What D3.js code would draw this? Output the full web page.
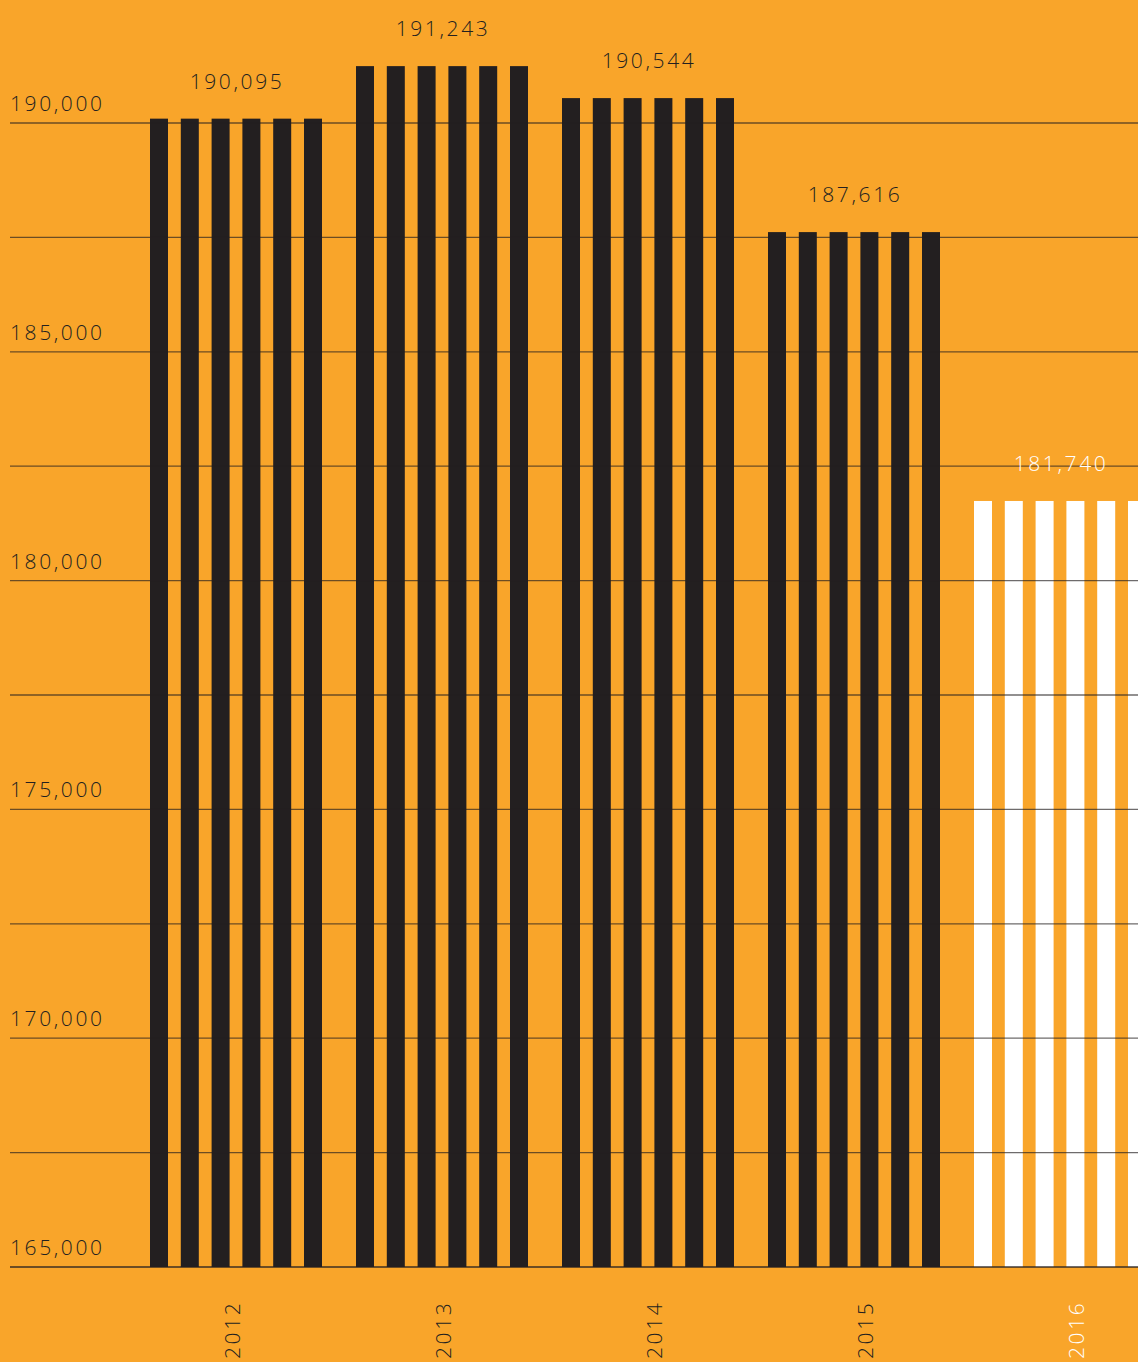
<!DOCTYPE html>
<html>
<head>
<meta charset="utf-8">
<script src="https://cdn.jsdelivr.net/npm/d3@7"></script>
<style>
  html, body { margin: 0; padding: 0; background: #F9A52A; overflow: hidden; }
  svg { display: block; }
  text { font-family: "Open Sans", sans-serif; font-size: 21px; font-weight: 300; letter-spacing: 2.6px; }
</style>
</head>
<body>
<svg id="chart" width="1138" height="1362"></svg>
<script>
// ---- data ----
const years = ["2012", "2013", "2014", "2015", "2016"];
const values = [190095, 191243, 190544, 187616, 181740];
const valueLabels = ["190,095", "191,243", "190,544", "187,616", "181,740"];
const barsPerYear = [0, 1, 2, 3, 4, 5];
const gridTicks = [165000, 167500, 170000, 172500, 175000, 177500, 180000, 182500, 185000, 187500, 190000];
const labelTicks = [165000, 170000, 175000, 180000, 185000, 190000];
const tickLabels = ["165,000", "170,000", "175,000", "180,000", "185,000", "190,000"];
const highlightYear = "2016";

// ---- layout ----
const W = 1138, H = 1362;
const dark = "#231F20";
const svg = d3.select("#chart");
svg.append("rect").attr("width", W).attr("height", H).attr("fill", "#F9A52A");

const y = d3.scaleLinear().domain([165000, 190000]).range([1267, 123]);
const x = d3.scaleBand().domain(years).range([150, 1146]).paddingInner(34 / 206).paddingOuter(0);
const xi = d3.scaleBand().domain(barsPerYear).range([0, x.bandwidth()]).paddingInner(1 - 18 / 30.8).paddingOuter(0);
const xLabel = d3.scalePoint().domain(years).range([232, 1076]);

const data = years.map((yr, i) => ({ year: yr, value: values[i], label: valueLabels[i] }));

// bars
const groups = svg.append("g").selectAll("g").data(data).join("g")
  .attr("transform", d => `translate(${x(d.year)},0)`);
groups.selectAll("rect").data(d => barsPerYear.map(k => ({ k, d })))
  .join("rect")
  .attr("x", e => xi(e.k))
  .attr("width", xi.bandwidth())
  .attr("y", e => y(e.d.value))
  .attr("height", e => y(165000) - y(e.d.value))
  .attr("fill", e => e.d.year === highlightYear ? "#FFFFFF" : dark);

// grid lines (on top of bars)
svg.append("g").selectAll("line").data(gridTicks).join("line")
  .attr("x1", 10).attr("x2", W)
  .attr("y1", d => y(d)).attr("y2", d => y(d))
  .attr("stroke", "rgba(35,31,32,0.66)")
  .attr("stroke-width", d => d === 165000 ? 2.2 : 1.3);

// y tick labels
svg.append("g").selectAll("text").data(labelTicks).join("text")
  .attr("x", 10)
  .attr("y", d => y(d) - 12)
  .attr("fill", dark)
  .text((d, i) => tickLabels[i]);

// value labels
svg.append("g").selectAll("text").data(data).join("text")
  .attr("x", d => x(d.year) + x.bandwidth() / 2 + 1)
  .attr("y", d => y(d.value) - 30)
  .attr("text-anchor", "middle")
  .attr("fill", d => d.year === highlightYear ? "#FFFFFF" : dark)
  .text(d => d.label);

// year labels (rotated)
svg.append("g").selectAll("text").data(data).join("text")
  .attr("transform", d => `translate(${xLabel(d.year)},1359) rotate(-90)`)
  .attr("dy", "0.36em")
  .attr("text-anchor", "start")
  .attr("fill", d => d.year === highlightYear ? "#FFFFFF" : dark)
  .text(d => d.year);
</script>
</body>
</html>
